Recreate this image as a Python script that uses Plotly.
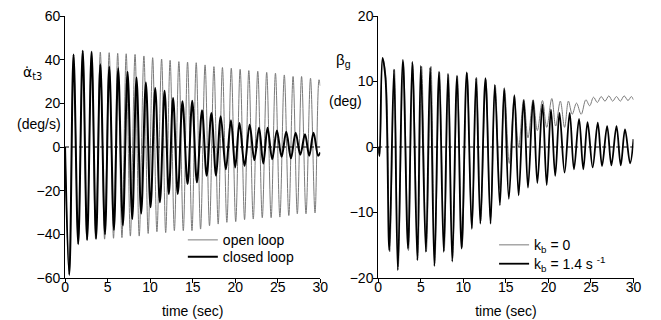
import plotly.graph_objects as go

# ---------------- Left panel: alpha-dot t3 (deg/s) ----------------
open_t = [0, 0.5, 1.0, 1.55, 2.08, 2.57, 3.12, 3.6, 4.15, 4.65, 5.19, 5.7, 6.19, 6.69, 7.19, 7.68,
          8.23, 8.72, 9.27, 9.77, 10.3, 10.8, 11.35, 11.83, 12.35, 12.85, 13.38, 13.9, 14.4, 14.92,
          15.42, 15.93, 16.46, 16.98, 17.5, 18.0, 18.5, 19.02, 19.54, 20.06, 20.58, 21.1, 21.6, 22.12,
          22.65, 23.18, 23.7, 24.22, 24.73, 25.25, 25.77, 26.3, 26.8, 27.3, 27.8, 28.32, 28.85, 29.38,
          29.85, 30]
open_v = [0, -58, 42.4, -44.2, 44.1, -42.7, 44.0, -42.2, 43.5, -42.2, 43.2, -41.8, 42.9, -41.5, 42.7, -40.8,
          42.4, -40.8, 41.7, -39.6, 40.9, -38.8, 40.3, -39.2, 39.7, -38.3, 39.1, -38.3, 38.9, -38.3,
          38.6, -37.6, 37.6, -36.1, 36.8, -35.3, 36.4, -34.5, 36.1, -34.2, 35.6, -33.3, 35.0, -33.0,
          34.7, -32.4, 34.2, -32.4, 33.8, -32.1, 33.0, -31.4, 32.3, -30.6, 32.3, -30.6, 31.5, -30.2,
          30.8, 28]

closed_t = [0, 0.5, 1.0, 1.55, 2.08, 2.6, 3.12, 3.65, 4.15, 4.7, 5.2, 5.75, 6.25, 6.8, 7.35, 7.9,
            8.4, 8.95, 9.5, 10.05, 10.6, 11.15, 11.7, 12.2, 12.7, 13.25, 13.8, 14.4, 14.95, 15.5,
            16.1, 16.65, 17.2, 17.75, 18.3, 18.9, 19.5, 20.0, 20.5, 21.1, 21.7, 22.25, 22.8, 23.3,
            23.8, 24.35, 24.9, 25.45, 26.0, 26.55, 27.1, 27.65, 28.2, 28.7, 29.2, 29.75, 30]
closed_v = [0, -58.6, 42.4, -44.5, 44.1, -42.5, 43.5, -42.0, 37.9, -40.0, 36.8, -38.0, 36.1, -36.0, 34.5, -33.0,
            31.8, -30.5, 29.5, -27.6, 27.0, -25.3, 25.8, -21.5, 22.4, -21.5, 20.9, -17.0, 21.2, -16.2,
            16.8, -13.2, 15.6, -13.2, 14.1, -10.2, 12.3, -9.4, 11.0, -8.6, 10.2, -6.0, 8.8, -7.5,
            8.8, -5.6, 7.6, -4.5, 7.0, -5.2, 6.5, -3.5, 5.8, -4.0, 6.5, -4.0, -2.5]

# ---------------- Right panel: beta_g (deg) ----------------
kb0_t = [0, 0.15, 0.55, 0.9, 1.35, 1.9, 2.35, 2.95, 3.55, 4.05, 4.65, 5.1, 5.65, 6.2, 6.65, 7.2,
         7.75, 8.25, 8.75, 9.3, 9.85, 10.45, 11.0, 11.55, 12.05, 12.65, 13.2, 13.75, 14.3, 14.85,
         15.4, 16.0, 16.5, 17.1, 17.6, 18.2, 18.7, 19.3, 19.8, 20.4, 20.85, 21.4, 21.9, 22.35,
         22.8, 23.3, 23.85, 24.4, 24.85, 25.3, 25.75, 26.2, 26.65, 27.1, 27.55, 28.0, 28.45, 28.9,
         29.35, 29.75, 30]
kb0_v = [0, -1.2, 13.4, 10.8, -16.0, 11.9, -18.3, 13.0, -15.8, 12.7, -17.0, 12.3, -16.0, 12.3, -17.8, 11.4,
         -15.8, 11.0, -17.0, 10.8, -15.3, 11.3, -12.3, 10.6, -11.3, 10.3, -10.8, 9.4, -6.5, 8.8,
         -2.5, 7.8, 0.0, 7.3, 1.4, 7.2, 2.5, 7.1, 3.0, 7.4, 3.2, 7.0, 3.0, 7.0,
         5.0, 6.7, 5.0, 7.2, 6.3, 7.6, 6.8, 7.7, 7.0, 7.8, 7.0, 7.7, 7.0, 7.8,
         7.1, 7.7, 7.2]

kb14_t = [0, 0.15, 0.5, 0.85, 1.3, 1.85, 2.3, 2.9, 3.5, 4.0, 4.6, 5.0, 5.6, 6.1, 6.6, 7.15,
          7.7, 8.2, 8.7, 9.26, 9.8, 10.4, 11.0, 11.5, 12.0, 12.6, 13.2, 13.7, 14.3, 14.8,
          15.35, 16.0, 16.5, 17.1, 17.6, 18.2, 18.7, 19.3, 19.8, 20.3, 20.8, 21.3, 21.9, 22.5,
          23.0, 23.6, 24.1, 24.6, 25.2, 25.8, 26.3, 26.9, 27.4, 28.0, 28.5, 29.0, 29.6, 30]
kb14_v = [0, -1.4, 13.6, 10.5, -15.8, 11.8, -18.8, 13.3, -15.5, 13.0, -17.3, 12.4, -16.0, 12.1, -18.2, 11.5,
          -16.0, 11.2, -17.5, 10.9, -15.5, 11.4, -12.5, 10.5, -11.7, 10.5, -11.7, 9.5, -8.9, 9.0,
          -7.9, 7.9, -7.4, 7.1, -6.2, 7.1, -5.5, 6.5, -5.8, 5.7, -4.4, 5.2, -3.9, 5.2,
          -3.4, 4.3, -3.4, 3.8, -3.1, 3.7, -2.9, 3.2, -2.8, 3.2, -2.8, 2.7, -2.5, 1.2]

x_ticks = [0, 5, 10, 15, 20, 25, 30]
left_yticks = [-60, -40, -20, 0, 20, 40, 60]
right_yticks = [-20, -10, 0, 10, 20]

W, H = 661, 320
OFF = 8  # page body margin offset of the html page
FONT = "Liberation Sans, Arial, Helvetica, sans-serif"
GREY = "#7a7a7a"


def px(xpage):
    return (xpage - OFF) / W


def py(ypage):
    # paper y for a page pixel y (plot area spans page 14..278)
    return (278 - ypage) / 264


fig = go.Figure()
fig.add_trace(go.Scatter(x=open_t, y=open_v, mode="lines", name="open loop",
                         line=dict(color=GREY, width=1, shape="spline", smoothing=1.0),
                         xaxis="x", yaxis="y", legend="legend"))
fig.add_trace(go.Scatter(x=closed_t, y=closed_v, mode="lines", name="closed loop",
                         line=dict(color="black", width=2, shape="spline", smoothing=1.0),
                         xaxis="x", yaxis="y", legend="legend2"))
fig.add_trace(go.Scatter(x=kb0_t, y=kb0_v, mode="lines", name="k<sub>b</sub> = 0",
                         line=dict(color=GREY, width=1, shape="spline", smoothing=1.0),
                         xaxis="x2", yaxis="y2", legend="legend3"))
fig.add_trace(go.Scatter(x=kb14_t, y=kb14_v, mode="lines", name="k<sub>b</sub> = 1.4 s <sup>-1</sup>",
                         line=dict(color="black", width=1.8, shape="spline", smoothing=1.0),
                         xaxis="x2", yaxis="y2", legend="legend4"))

axis_common = dict(showline=True, linecolor="black", linewidth=1, ticks="outside", ticklen=4,
                   tickcolor="black", showgrid=False, zeroline=False, ticklabeloverflow="allow",
                   tickfont=dict(family=FONT, size=14, color="black"))

xl = [px(62), px(322)]
xr = [px(381), px(641)]

leg = dict(xanchor="left", yanchor="middle", bgcolor="rgba(0,0,0,0)",
           font=dict(family=FONT, size=14, color="black"), itemwidth=30)

fig.update_layout(
    width=W, height=H,
    margin=dict(l=0, r=0, t=14 - OFF, b=42 + OFF),
    paper_bgcolor="white", plot_bgcolor="white",
    font=dict(family=FONT, size=14, color="black"),
    xaxis=dict(domain=xl, range=[0, 30], tickvals=x_ticks, anchor="y", ticklabelstandoff=-8,
               title=dict(text="time (sec)", standoff=12, font=dict(size=14)), **axis_common),
    yaxis=dict(domain=[0, 1], range=[-60, 60], tickvals=left_yticks, anchor="x",
               ticklabelstandoff=-3, **axis_common),
    xaxis2=dict(domain=xr, range=[0, 30], tickvals=x_ticks, anchor="y2", ticklabelstandoff=-8,
                title=dict(text="time (sec)", standoff=12, font=dict(size=14)), **axis_common),
    yaxis2=dict(domain=[0, 1], range=[-20, 20], tickvals=right_yticks, anchor="x2",
                ticklabelstandoff=-3, **axis_common),
    showlegend=True,
    legend=dict(x=px(182), y=py(240), **leg),
    legend2=dict(x=px(182), y=py(257), **leg),
    legend3=dict(x=px(499), y=py(245), **leg),
    legend4=dict(x=px(499), y=py(264), **leg),
)

# dashed zero reference lines
fig.add_shape(type="line", xref="x", yref="y", x0=0, x1=30, y0=0, y1=0,
              line=dict(color="black", width=1, dash="4px,3px"))
fig.add_shape(type="line", xref="x2", yref="y2", x0=0, x1=30, y0=0, y1=0,
              line=dict(color="black", width=1, dash="4px,3px"))

# y-axis titles
fig.add_annotation(x=px(29), y=34, xref="paper", yref="y", text="\u03b1\u0307<sub>t3</sub>",
                   showarrow=False, font=dict(family="DejaVu Sans", size=14), xanchor="center")
fig.add_annotation(x=px(35), y=10.5, xref="paper", yref="y",
                   text="(deg/s)", showarrow=False, font=dict(family=FONT, size=14), xanchor="center")
fig.add_annotation(x=px(346), y=13.2, xref="paper", yref="y2", text="β<sub>g</sub>",
                   showarrow=False, font=dict(family=FONT, size=15), xanchor="center")
fig.add_annotation(x=px(348), y=7, xref="paper", yref="y2", text="(deg)",
                   showarrow=False, font=dict(family=FONT, size=14), xanchor="center")

fig.write_html("out.html")
